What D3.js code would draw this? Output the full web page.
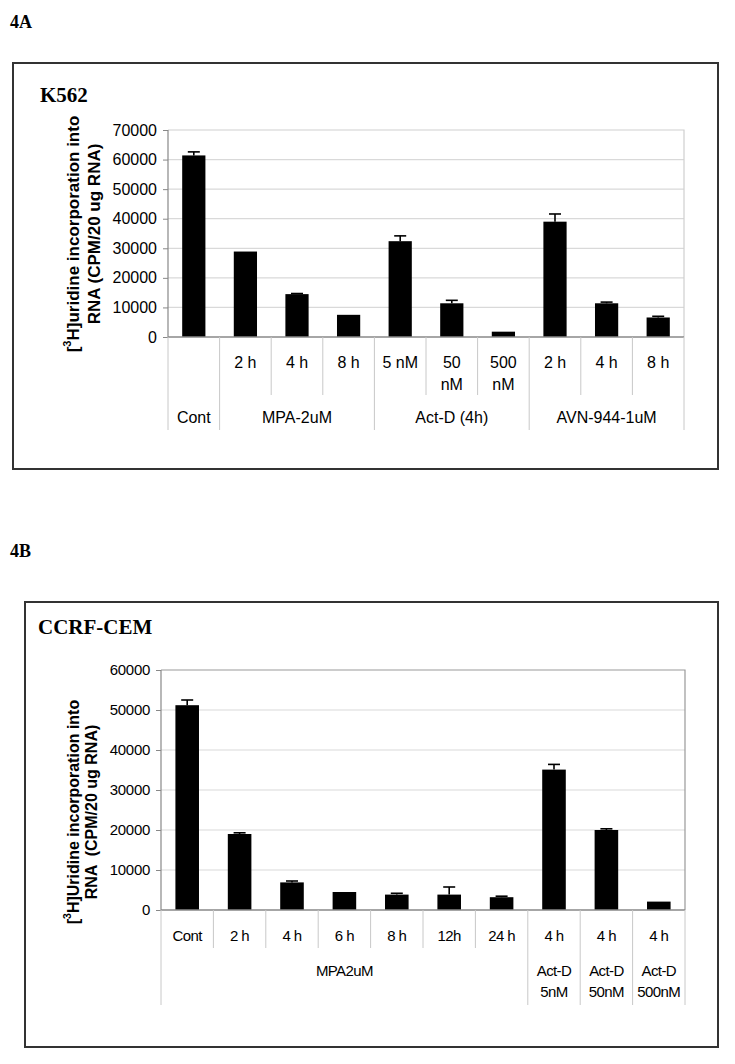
<!DOCTYPE html>
<html>
<head>
<meta charset="utf-8">
<script src="https://cdn.jsdelivr.net/npm/d3@7"></script>
<style>
  html, body { margin: 0; padding: 0; background: #fff; }
  svg { display: block; }
</style>
</head>
<body>
<script>
// ---------- Data: panel 4A (K562) ----------
const k562Level1 = [[""], ["2 h"], ["4 h"], ["8 h"], ["5 nM"], ["50", "nM"], ["500", "nM"], ["2 h"], ["4 h"], ["8 h"]];
const k562GroupLabels = [["Cont"], ["MPA-2uM"], ["Act-D (4h)"], ["AVN-944-1uM"]];
const k562GroupSizes = [1, 3, 3, 3];
const k562Values = [61400, 28900, 14500, 7500, 32400, 11400, 1800, 39000, 11400, 6600];
const k562Errors = [1200, 0, 200, 0, 1800, 1000, 0, 2600, 400, 400];
const k562YTicks = [0, 10000, 20000, 30000, 40000, 50000, 60000, 70000];

// ---------- Data: panel 4B (CCRF-CEM) ----------
const cemLevel1 = [["Cont"], ["2 h"], ["4 h"], ["6 h"], ["8 h"], ["12h"], ["24 h"], ["4 h"], ["4 h"], ["4 h"]];
const cemGroupLabels = [["MPA2uM"], ["Act-D", "5nM"], ["Act-D", "50nM"], ["Act-D", "500nM"]];
const cemGroupSizes = [7, 1, 1, 1];
const cemValues = [51200, 19000, 6900, 4500, 3850, 3850, 3200, 35100, 20000, 2100];
const cemErrors = [1300, 300, 350, 0, 330, 1900, 250, 1300, 300, 0];
const cemYTicks = [0, 10000, 20000, 30000, 40000, 50000, 60000];

const W = 735, H = 1064;
const svg = d3.select("body").append("svg").attr("width", W).attr("height", H);
const SANS = "'Liberation Sans', Arial, sans-serif";
const SERIF = "'Liberation Serif', 'Times New Roman', serif";

function panel(o) {
  const g = svg.append("g");
  // panel letter
  svg.append("text").attr("x", o.letterX).attr("y", o.letterY)
    .attr("font-family", SERIF).attr("font-weight", "bold").attr("font-size", 18)
    .text(o.letter);
  // outer box
  g.append("rect").attr("x", o.box[0]).attr("y", o.box[1])
    .attr("width", o.box[2] - o.box[0]).attr("height", o.box[3] - o.box[1])
    .attr("fill", "none").attr("stroke", "#333").attr("stroke-width", 2);
  // cell line title
  g.append("text").attr("x", o.titleX).attr("y", o.titleY)
    .attr("font-family", SERIF).attr("font-weight", "bold").attr("font-size", o.titleSize)
    .text(o.title);

  const n = o.values.length;
  const x = d3.scaleBand().domain(d3.range(n)).range([o.left, o.right])
    .paddingInner(0.55).paddingOuter(0.275);
  const y = d3.scaleLinear().domain([0, d3.max(o.ticks)]).range([o.bottom, o.top]);
  const step = x.step();

  // gridlines
  g.append("g").selectAll("line").data(o.ticks.filter(t => t > 0 && t < d3.max(o.ticks)))
    .join("line")
    .attr("x1", o.left).attr("x2", o.right)
    .attr("y1", d => y(d)).attr("y2", d => y(d))
    .attr("stroke", "#d9d9d9").attr("stroke-width", 1.2);

  // plot border (top, right)
  g.append("path")
    .attr("d", `M${o.left},${y(d3.max(o.ticks))}H${o.right}V${o.bottom}`)
    .attr("fill", "none").attr("stroke", o.borderColor).attr("stroke-width", 1.2);

  // y axis
  const ax = g.append("g").attr("transform", `translate(${o.left},0)`)
    .call(d3.axisLeft(y).tickValues(o.ticks).tickFormat(d3.format("d")).tickSize(5).tickPadding(6));
  ax.select(".domain").remove();
  ax.selectAll(".tick line").attr("stroke", "#888");
  ax.selectAll(".tick text").attr("font-family", SANS).attr("font-size", o.tickSize)
    .attr("fill", "#000").attr("letter-spacing", o.tickSpacing);
  g.append("line").attr("x1", o.left).attr("x2", o.left).attr("y1", o.top).attr("y2", o.bottom)
    .attr("stroke", "#888").attr("stroke-width", 1.2);

  // bars
  g.append("g").selectAll("rect").data(o.values).join("rect")
    .attr("x", (d, i) => x(i)).attr("width", x.bandwidth())
    .attr("y", d => y(d)).attr("height", d => o.bottom - y(d))
    .attr("fill", "#000");

  // error bars (upper only)
  const eb = g.append("g").attr("stroke", "#000").attr("stroke-width", 1.6);
  o.values.forEach((v, i) => {
    const e = o.errors[i];
    if (!e) return;
    const cx = x(i) + x.bandwidth() / 2;
    eb.append("line").attr("x1", cx).attr("x2", cx).attr("y1", y(v)).attr("y2", y(v + e));
    eb.append("line").attr("x1", cx - 6).attr("x2", cx + 6).attr("y1", y(v + e)).attr("y2", y(v + e));
  });

  // baseline
  g.append("line").attr("x1", o.left).attr("x2", o.right).attr("y1", o.bottom).attr("y2", o.bottom)
    .attr("stroke", "#888").attr("stroke-width", 1.4);

  // category table separators
  const groupEdges = [0];
  o.groupSizes.forEach(s => groupEdges.push(groupEdges[groupEdges.length - 1] + s));
  const sep = g.append("g").attr("stroke", "#c8c8c8").attr("stroke-width", 1);
  for (let k = 0; k <= n; k++) {
    const xx = o.left + k * step;
    const long = groupEdges.includes(k);
    sep.append("line").attr("x1", xx).attr("x2", xx).attr("y1", o.bottom)
      .attr("y2", long ? o.longEnd : o.shortEnd);
  }

  // level-1 labels
  const lab = g.append("g").attr("font-family", SANS).attr("font-size", o.labelSize)
    .attr("letter-spacing", o.labelSpacing).attr("text-anchor", "middle").attr("fill", "#000");
  o.level1.forEach((lines, i) => {
    const cx = o.left + (i + 0.5) * step;
    lines.forEach((t, j) => {
      lab.append("text").attr("x", cx).attr("y", o.l1Y + j * o.lineH)
        .attr("dominant-baseline", "central").text(t);
    });
  });
  // group labels
  o.groupLabels.forEach((lines, gi) => {
    const cx = o.left + (groupEdges[gi] + groupEdges[gi + 1]) / 2 * step;
    lines.forEach((t, j) => {
      lab.append("text").attr("x", cx).attr("y", o.gY + j * o.lineH)
        .attr("dominant-baseline", "central").text(t);
    });
  });

  // y axis title (two rotated lines)
  const yt = g.append("g").attr("font-family", SANS).attr("font-weight", "bold")
    .attr("font-size", o.yTitleSize).attr("text-anchor", "middle");
  o.yTitle.forEach((line, j) => {
    const tx = o.yTitleX[j];
    const t = yt.append("text")
      .attr("transform", `translate(${tx},${o.yTitleY}) rotate(-90)`)
      .attr("dominant-baseline", "central");
    if (j === 0) {
      t.append("tspan").text("[");
      t.append("tspan").attr("font-size", o.yTitleSize * 0.65).attr("dy", -o.yTitleSize * 0.35).text("3");
      t.append("tspan").attr("dy", o.yTitleSize * 0.35).text(line);
    } else {
      t.attr("xml:space", "preserve").style("white-space", "pre").text(line);
    }
  });
}

panel({
  letter: "4A", letterX: 10, letterY: 28,
  box: [13, 63, 718, 469],
  title: "K562", titleX: 40, titleY: 102, titleSize: 21,
  left: 168, right: 684, top: 130, bottom: 337,
  values: k562Values, errors: k562Errors, ticks: k562YTicks,
  level1: k562Level1, groupLabels: k562GroupLabels, groupSizes: k562GroupSizes,
  borderColor: "#cfcfcf",
  tickSize: 16, tickSpacing: 0,
  labelSize: 16, labelSpacing: 0, lineH: 22,
  l1Y: 362, gY: 417, shortEnd: 395, longEnd: 430,
  yTitle: ["H]uridine incorporation into", "RNA (CPM/20 ug RNA)"],
  yTitleX: [73, 94], yTitleY: 234, yTitleSize: 17
});

panel({
  letter: "4B", letterX: 10, letterY: 557,
  box: [25, 602, 718, 1047],
  title: "CCRF-CEM", titleX: 38, titleY: 634, titleSize: 21,
  left: 161, right: 685, top: 670, bottom: 910,
  values: cemValues, errors: cemErrors, ticks: cemYTicks,
  level1: cemLevel1, groupLabels: cemGroupLabels, groupSizes: cemGroupSizes,
  borderColor: "#999",
  tickSize: 15, tickSpacing: -0.3,
  labelSize: 15, labelSpacing: -0.6, lineH: 21.5,
  l1Y: 935, gY: 970, shortEnd: 948, longEnd: 1005,
  yTitle: ["H]Uridine incorporation into", "RNA  (CPM/20 ug RNA)"],
  yTitleX: [73, 91], yTitleY: 812, yTitleSize: 16
});
</script>
</body>
</html>
